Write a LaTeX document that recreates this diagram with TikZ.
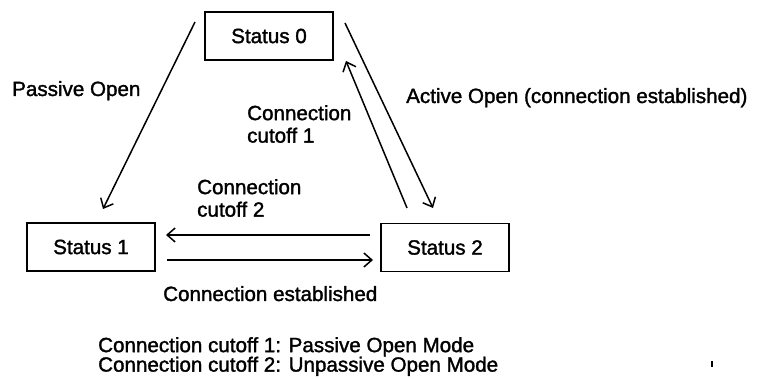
\documentclass[tikz,border=0pt]{standalone}
\usepackage{fontspec}
\setmainfont{Liberation Sans}[FakeBold=1.5]
\usetikzlibrary{arrows.meta}
\begin{document}
\begin{tikzpicture}[x=1pt,y=-1pt,
  every node/.style={font=\fontsize{20.6}{22.5}\selectfont},
  statebox/.style={draw, line width=1.7pt, minimum width=128pt, minimum height=48pt, inner sep=0pt},
  lbl/.style={inner sep=0pt, align=left},
  conn/.style={line width=1.5pt, -{Straight Barb[length=8pt,width=14pt,line width=1.5pt]}}
]
\useasboundingbox (0,0) rectangle (758,379);
\node[statebox] (s0) at (269,36) {Status 0};
\node[statebox] (s1) at (91,247) {Status 1};
\node[statebox] (s2) at (445,247.5) {Status 2};

\coordinate (pa) at (195,22);
\coordinate (pb) at (103,209);
\coordinate (aa) at (345,23);
\coordinate (ab) at (433,208);
\coordinate (ca) at (407,208);
\coordinate (cb) at (346,61);
\coordinate (ha) at (370,235);
\coordinate (hb) at (166,235);
\coordinate (la) at (167,260);
\coordinate (lb) at (373,260);

\draw[conn] (pa) -- (pb);
\draw[conn] (aa) -- (ab);
\draw[conn] (ca) -- (cb);
\draw[conn] (ha) -- (hb);
\draw[conn] (la) -- (lb);

\node[lbl, anchor=base west] (tpo) at (12,96) {Passive Open};
\node[lbl, anchor=base west] (tao) at (406,103) {Active Open (connection established)};
\node[lbl, anchor=north west] (tc1) at (247,105) {Connection\\cutoff 1};
\node[lbl, anchor=north west] (tc2) at (197,179) {Connection\\cutoff 2};
\node[lbl, anchor=base west] (tce) at (163,301) {Connection established};
\node[lbl, anchor=north west, font=\fontsize{20.6}{19.5}\selectfont] (leg) at (98,337) {Connection cutoff 1: Passive Open Mode\\Connection cutoff 2: Unpassive Open Mode};
\coordinate (tka) at (712,361);
\coordinate (tkb) at (712,367);
\draw[line width=1.2pt] (tka) -- (tkb);
\end{tikzpicture}
\end{document}
